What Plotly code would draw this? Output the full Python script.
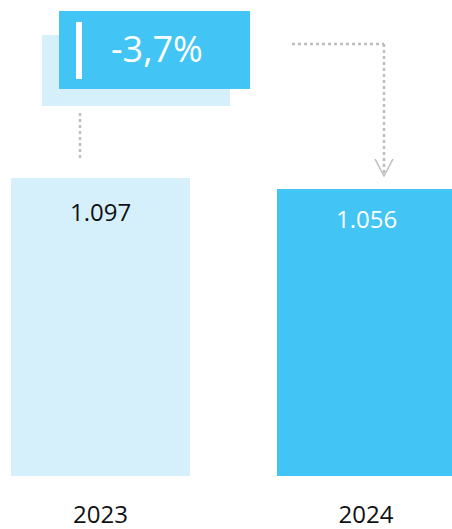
import plotly.graph_objects as go

# ---- data ----
years = ["2023", "2024"]
values = [1097, 1056]
change_label = "-3,7%"

bar_colors = ["#D6F0FB", "#42C5F4"]
text_colors = ["#111111", "#FFFFFF"]
label_shifts = [-15, -11]

W, H = 452, 529
B = 53  # bottom margin
PH = H - B


def px(x):
    return x / W


def py(y):
    return (PH - y) / PH


fig = go.Figure()
fig.add_trace(go.Bar(
    x=[0, 1], y=values, width=0.674,
    marker=dict(color=bar_colors, line=dict(width=0)),
    hoverinfo="skip",
))

font = "Open Sans"

annotations = []
for i, (v, c, s) in enumerate(zip(values, text_colors, label_shifts)):
    annotations.append(dict(
        x=i, y=v, xref="x", yref="y", text=f"{v:,}".replace(",", "."),
        showarrow=False, yanchor="top", yshift=s,
        font=dict(family=font, size=24, color=c),
    ))

annotations.append(dict(
    x=px(157), y=py(49), xref="paper", yref="paper", text=change_label,
    showarrow=False, xanchor="center", yanchor="middle",
    font=dict(family=font, size=36, color="#FFFFFF"),
))

gray = "#BDBDBD"
shapes = [
    dict(type="rect", xref="paper", yref="paper", x0=px(42), x1=px(230), y0=py(106), y1=py(35),
         fillcolor="#D6F0FB", line=dict(width=0), layer="above"),
    dict(type="rect", xref="paper", yref="paper", x0=px(59), x1=px(250), y0=py(89), y1=py(11),
         fillcolor="#42C5F4", line=dict(width=0), layer="above"),
    dict(type="rect", xref="paper", yref="paper", x0=px(76), x1=px(82), y0=py(79), y1=py(22),
         fillcolor="#FFFFFF", line=dict(width=0), layer="above"),
    dict(type="line", xref="paper", yref="paper", x0=px(80), x1=px(80), y0=py(113), y1=py(158),
         line=dict(color=gray, width=2.5, dash="dot")),
    dict(type="line", xref="paper", yref="paper", x0=px(292), x1=px(384), y0=py(44), y1=py(44),
         line=dict(color=gray, width=2.5, dash="dot")),
    dict(type="line", xref="paper", yref="paper", x0=px(384), x1=px(384), y0=py(44), y1=py(174),
         line=dict(color=gray, width=2.5, dash="dot")),
    dict(type="path", xref="paper", yref="paper",
         path=f"M {px(375)} {py(159)} L {px(384)} {py(176)} L {px(393)} {py(159)}",
         line=dict(color=gray, width=1.5)),
]

fig.update_layout(
    width=W, height=H,
    margin=dict(l=0, r=0, t=0, b=B),
    paper_bgcolor="white", plot_bgcolor="white",
    showlegend=False,
    bargap=0,
    xaxis=dict(range=[-100.5 / 265.5, (W - 100.5) / 265.5], tickvals=[0, 1], ticktext=years,
               showgrid=False, zeroline=False, showline=False, ticks="",
               tickfont=dict(family=font, size=24, color="#111111"), ticklabelstandoff=22),
    yaxis=dict(range=[0, 1097 * PH / 298], visible=False, showgrid=False, zeroline=False),
    shapes=shapes,
    annotations=annotations,
)

fig.write_html(
    "out.html",
    config={"displayModeBar": False, "staticPlot": True},
    post_script="document.body.style.margin='0';document.body.style.overflow='hidden';",
)
